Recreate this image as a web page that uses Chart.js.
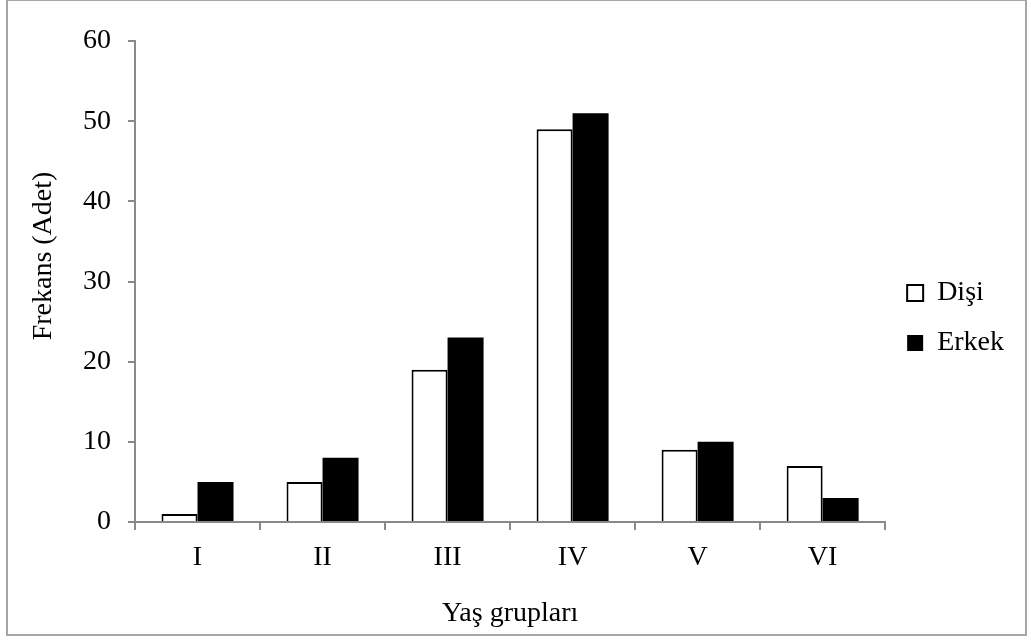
<!DOCTYPE html>
<html>
<head>
<meta charset="utf-8">
<script src="https://cdn.jsdelivr.net/npm/chart.js@4"></script>
<style>
body { margin: 0; background: #fff; }
#wrap { position: relative; width: 1031px; height: 641px; }
#frame { position: absolute; left: 6px; top: -1px; width: 1021px; height: 637px; border: 2px solid #a6a6a6; box-sizing: border-box; pointer-events: none; }
</style>
</head>
<body>
<div id="wrap">
    <canvas id="chart" width="1031" height="641"></canvas>
    <div id="frame"></div>
</div>
<script>
// Yaş grupları ve frekanslar
const categories = ['I', 'II', 'III', 'IV', 'V', 'VI'];
const disiValues = [1, 5, 19, 49, 9, 7];
const erkekValues = [5, 8, 23, 51, 10, 3];
const yTicks = [0, 10, 20, 30, 40, 50, 60];

const serif = "'Liberation Serif', 'Times New Roman', serif";
const axisGray = '#898989';

// y ekseni başlığı (dikey yazı)
const yTitlePlugin = {
    id: 'yTitle',
    afterDraw(chart) {
        const ctx = chart.ctx;
        ctx.save();
        ctx.translate(44, 256);
        ctx.rotate(-Math.PI / 2);
        ctx.font = '28px ' + serif;
        ctx.fillStyle = '#000';
        ctx.textAlign = 'center';
        ctx.textBaseline = 'middle';
        ctx.fillText('Frekans (Adet)', 0, 0);
        ctx.restore();
    }
};

// legend biraz yukarı
const legendShift = {
    id: 'legendShift',
    afterLayout(chart) {
        chart.legend.top -= 23;
        chart.legend.bottom -= 23;
    }
};

new Chart(document.getElementById('chart'), {
    type: 'bar',
    data: {
        labels: categories,
        datasets: [
            {
                label: 'Dişi',
                data: disiValues,
                backgroundColor: '#ffffff',
                borderColor: '#000000',
                borderWidth: 2,
                categoryPercentage: 0.576,
                barPercentage: 1
            },
            {
                label: 'Erkek',
                data: erkekValues,
                backgroundColor: '#000000',
                borderColor: '#000000',
                borderWidth: 0,
                categoryPercentage: 0.576,
                barPercentage: 1
            }
        ]
    },
    options: {
        responsive: false,
        animation: false,
        layout: { padding: { top: 41, right: 17, bottom: 0, left: 0 } },
        plugins: {
            legend: {
                position: 'right',
                labels: {
                    boxWidth: 16,
                    boxHeight: 16,
                    padding: 22,
                    color: '#000',
                    font: { family: serif, size: 28 }
                }
            },
            tooltip: { enabled: false }
        },
        scales: {
            x: {
                grid: { offset: true, drawOnChartArea: false, tickLength: 8, color: axisGray, lineWidth: 2 },
                border: { color: axisGray, width: 2 },
                ticks: { color: '#000', font: { family: serif, size: 28 }, padding: 11 },
                title: {
                    display: true,
                    text: 'Yaş grupları',
                    color: '#000',
                    font: { family: serif, size: 28 },
                    padding: { top: 0, bottom: 11 }
                },
                afterFit(scale) { scale.height = 119; }
            },
            y: {
                min: 0,
                max: 60,
                grid: { drawOnChartArea: false, tickLength: 7, color: axisGray, lineWidth: 2 },
                border: { color: axisGray, width: 2 },
                ticks: { color: '#000', font: { family: serif, size: 28 }, padding: 17 },
                afterBuildTicks(scale) { scale.ticks = yTicks.map(v => ({ value: v })); },
                afterFit(scale) { scale.width = 135; }
            }
        }
    },
    plugins: [yTitlePlugin, legendShift]
});
</script>
</body>
</html>
